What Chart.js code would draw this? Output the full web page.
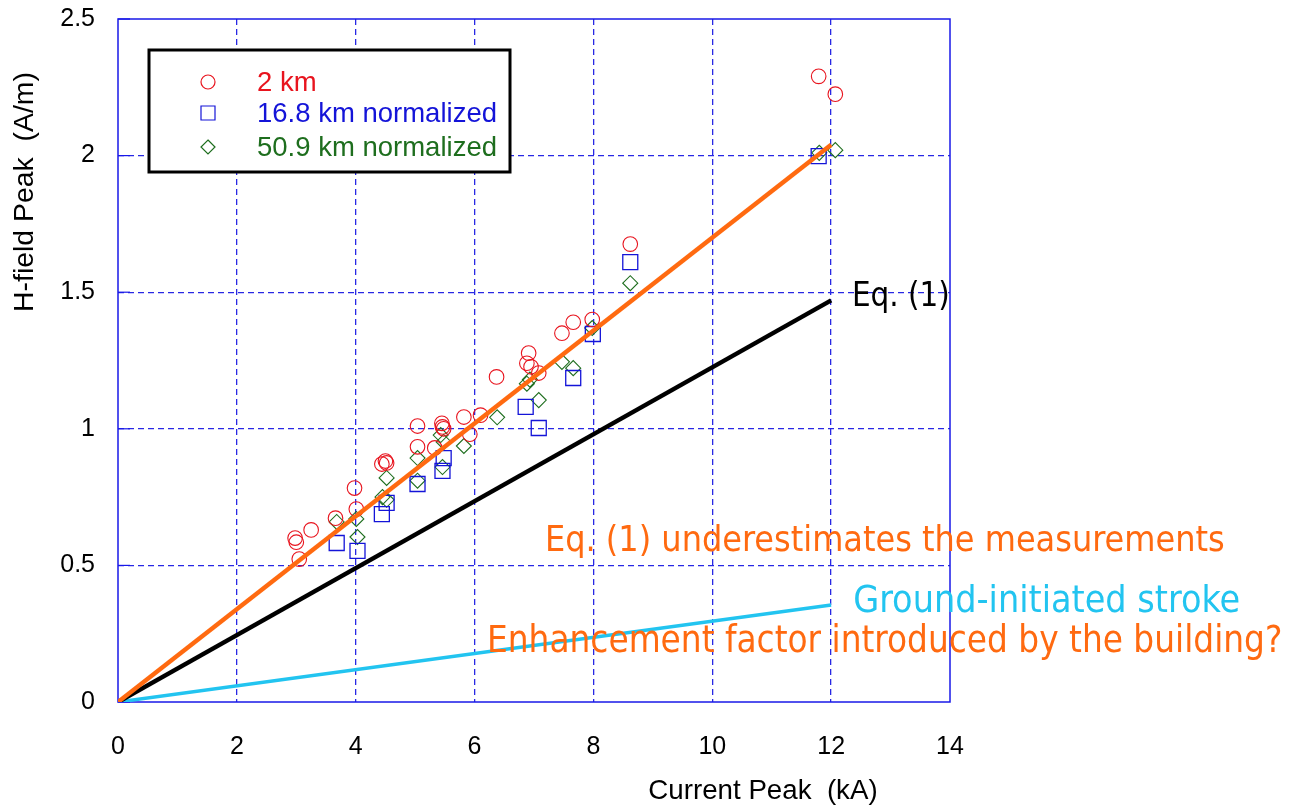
<!DOCTYPE html>
<html>
<head>
<meta charset="utf-8">
<script src="https://cdn.jsdelivr.net/npm/chart.js@4.4.1/dist/chart.umd.min.js"></script>
<style>
html,body{margin:0;padding:0;background:#fff;}
canvas{display:block;}
</style>
</head>
<body>
<canvas id="c" width="1298" height="807"></canvas>
<script>
// ---- data ----
const xTicks = [0, 2, 4, 6, 8, 10, 12, 14];
const yTicks = [0, 0.5, 1, 1.5, 2, 2.5];

const km2X = [2.98, 3.0, 3.05, 3.25, 3.66, 3.98, 4.01, 4.44, 4.5, 4.52, 5.04, 5.04, 5.33, 5.45, 5.46, 5.48, 5.82, 5.92, 6.1, 6.37, 6.88, 6.91, 6.95, 7.08, 7.47, 7.66, 7.98, 8.62, 11.79, 12.07];
const km2Y = [0.60, 0.585, 0.523, 0.63, 0.673, 0.783, 0.706, 0.871, 0.882, 0.875, 1.01, 0.934, 0.93, 1.02, 1.007, 1.0, 1.043, 0.98, 1.05, 1.19, 1.24, 1.277, 1.227, 1.204, 1.35, 1.39, 1.40, 1.676, 2.29, 2.225];

const km16X = [3.68, 4.03, 4.44, 4.52, 5.04, 5.46, 5.48, 6.86, 7.08, 7.66, 7.99, 8.62, 11.79];
const km16Y = [0.582, 0.553, 0.688, 0.729, 0.798, 0.846, 0.893, 1.08, 1.003, 1.186, 1.347, 1.61, 1.998];

const km50X = [3.68, 4.01, 4.03, 4.45, 4.52, 4.52, 5.04, 5.04, 5.43, 5.46, 5.48, 5.82, 6.38, 6.88, 6.93, 7.08, 7.47, 7.66, 7.98, 8.62, 11.8, 12.07];
const km50Y = [0.659, 0.67, 0.604, 0.75, 0.74, 0.82, 0.81, 0.893, 0.977, 0.86, 0.952, 0.937, 1.042, 1.165, 1.18, 1.105, 1.245, 1.222, 1.369, 1.533, 2.01, 2.02];

const fitLineX = [0, 12];
const fitLineY = [0, 2.04];
const eqLineX = [0, 12];
const eqLineY = [0, 1.47];
const groundLineX = [0, 12];
const groundLineY = [0, 0.355];

const seriesLabels = ['2 km', '16.8 km normalized', '50.9 km normalized'];
const xTitle = 'Current Peak  (kA)';
const yTitle = 'H-field Peak  (A/m)';

const notes = [
  {text: 'Eq. (1)', x: 12.35, y: 1.479, color: '#000000', w: 98},
  {text: 'Eq. (1) underestimates the measurements', x: 7.185, y: 0.586, color: '#FF6A10', w: 680},
  {text: 'Ground-initiated stroke', x: 12.37, y: 0.366, color: '#22C4F0', w: 387},
  {text: 'Enhancement factor introduced by the building?', x: 6.21, y: 0.216, color: '#FF6A10', w: 796}
];

const zip = (xs, ys) => xs.map((x, i) => ({x: x, y: ys[i]}));

const RED = '#E8141E', BLUE = '#1414D8', GREEN = '#1E6E1E';
const GRID = '#2828E4';
const SANS = '"Liberation Sans", Arial, sans-serif';
const NOTEFONT = '"DejaVu Sans Condensed", "DejaVu Sans", sans-serif';

function fitFont(ctx, text, width, family) {
  ctx.font = '100px ' + family;
  const w = ctx.measureText(text).width;
  return (100 * width / w);
}

const decor = {
  id: 'decor',
  beforeDatasetsDraw(chart) {
    const {ctx, chartArea: a, scales} = chart;
    ctx.save();
    ctx.strokeStyle = '#1818E8';
    ctx.lineWidth = 1.5;
    ctx.setLineDash([]);
    ctx.strokeRect(a.left, a.top, a.right - a.left, a.bottom - a.top);
    ctx.lineWidth = 1.2;
    yTicks.forEach(v => {
      const py = scales.y.getPixelForValue(v);
      ctx.beginPath(); ctx.moveTo(a.left, py); ctx.lineTo(a.left + 12, py); ctx.stroke();
    });
    ctx.restore();
  },
  afterDraw(chart) {
    const {ctx, chartArea: a, scales} = chart;
    ctx.save();
    ctx.fillStyle = '#000';
    ctx.textBaseline = 'middle';
    ctx.textAlign = 'center';
    let fs = fitFont(ctx, xTitle, 229, SANS);
    ctx.font = fs.toFixed(1) + 'px ' + SANS;
    ctx.fillText(xTitle, 763, 791);
    fs = fitFont(ctx, yTitle, 240, SANS);
    ctx.save();
    ctx.translate(25, 192);
    ctx.rotate(-Math.PI / 2);
    ctx.font = fs.toFixed(1) + 'px ' + SANS;
    ctx.fillText(yTitle, 0, 0);
    ctx.restore();

    ctx.textAlign = 'left';
    notes.forEach(n => {
      const f = fitFont(ctx, n.text, n.w, NOTEFONT);
      ctx.font = f.toFixed(1) + 'px ' + NOTEFONT;
      ctx.fillStyle = n.color;
      ctx.fillText(n.text, scales.x.getPixelForValue(n.x), scales.y.getPixelForValue(n.y));
    });

    const L = {x: 149, y: 50, w: 361, h: 122};
    ctx.fillStyle = '#fff';
    ctx.fillRect(L.x, L.y, L.w, L.h);
    ctx.strokeStyle = '#000';
    ctx.lineWidth = 3;
    ctx.strokeRect(L.x, L.y, L.w, L.h);
    const rows = [82, 113, 147];
    const cols = [RED, BLUE, GREEN];
    const lf = fitFont(ctx, seriesLabels[1], 240, SANS);
    ctx.font = lf.toFixed(1) + 'px ' + SANS;
    ctx.textBaseline = 'middle';
    rows.forEach((ry, i) => {
      ctx.strokeStyle = cols[i];
      ctx.lineWidth = 1.2;
      const mx = 208;
      ctx.beginPath();
      if (i === 0) ctx.arc(mx, ry, 7, 0, Math.PI * 2);
      else if (i === 1) ctx.rect(mx - 7, ry - 7, 14, 14);
      else { ctx.moveTo(mx, ry - 7); ctx.lineTo(mx + 7, ry); ctx.lineTo(mx, ry + 7); ctx.lineTo(mx - 7, ry); ctx.closePath(); }
      ctx.stroke();
      ctx.fillStyle = cols[i];
      ctx.fillText(seriesLabels[i], 257, ry + 1);
    });
    ctx.restore();
  }
};

const gridColor = (maxV) => (c) => {
  if (!c.tick) return GRID;
  const v = c.tick.value;
  return (Math.abs(v) < 1e-9 || Math.abs(v - maxV) < 1e-9) ? 'rgba(0,0,0,0)' : GRID;
};

new Chart(document.getElementById('c'), {
  type: 'scatter',
  data: {
    datasets: [
      {label: 'fit', data: zip(fitLineX, fitLineY), showLine: true, borderColor: '#FF6A10', borderWidth: 4.5, pointRadius: 0, order: 0},
      {label: 'Eq. (1)', data: zip(eqLineX, eqLineY), showLine: true, borderColor: '#000000', borderWidth: 4.5, pointRadius: 0, order: 0},
      {label: 'ground', data: zip(groundLineX, groundLineY), showLine: true, borderColor: '#22C4F0', borderWidth: 3.5, pointRadius: 0, order: 0},
      {label: seriesLabels[0], data: zip(km2X, km2Y), pointStyle: 'circle', pointRadius: 7.3, borderColor: RED, borderWidth: 1.1, backgroundColor: 'rgba(0,0,0,0)', order: 1},
      {label: seriesLabels[1], data: zip(km16X, km16Y), pointStyle: 'rect', pointRadius: 10.6, borderColor: BLUE, borderWidth: 1.3, backgroundColor: 'rgba(0,0,0,0)', order: 1},
      {label: seriesLabels[2], data: zip(km50X, km50Y), pointStyle: 'rectRot', pointRadius: 7.5, borderColor: GREEN, borderWidth: 1.1, backgroundColor: 'rgba(0,0,0,0)', order: 1}
    ]
  },
  options: {
    responsive: false,
    devicePixelRatio: 1,
    animation: false,
    layout: {padding: {left: 0, top: 19, right: 348, bottom: 0}},
    plugins: {legend: {display: false}, tooltip: {enabled: false}},
    elements: {point: {hoverRadius: 7}},
    scales: {
      x: {
        type: 'linear', min: 0, max: 14,
        afterFit: s => { s.height = 105; s.paddingLeft = 0; s.paddingRight = 0; },
        afterBuildTicks: s => { s.ticks = xTicks.map(v => ({value: v})); },
        ticks: {padding: 30, font: {family: SANS, size: 25}, color: '#000', maxRotation: 0, callback: v => String(v)},
        grid: {color: gridColor(14), lineWidth: 1.3, drawTicks: false},
        border: {display: false, dash: [6, 4]}
      },
      y: {
        type: 'linear', min: 0, max: 2.5,
        afterFit: s => { s.width = 118; s.paddingTop = 0; s.paddingBottom = 0; },
        afterBuildTicks: s => { s.ticks = yTicks.map(v => ({value: v})); },
        ticks: {padding: 23, font: {family: SANS, size: 25}, color: '#000', callback: v => String(v)},
        grid: {color: gridColor(2.5), lineWidth: 1.3, drawTicks: false},
        border: {display: false, dash: [6, 4]}
      }
    }
  },
  plugins: [decor]
});
</script>
</body>
</html>
